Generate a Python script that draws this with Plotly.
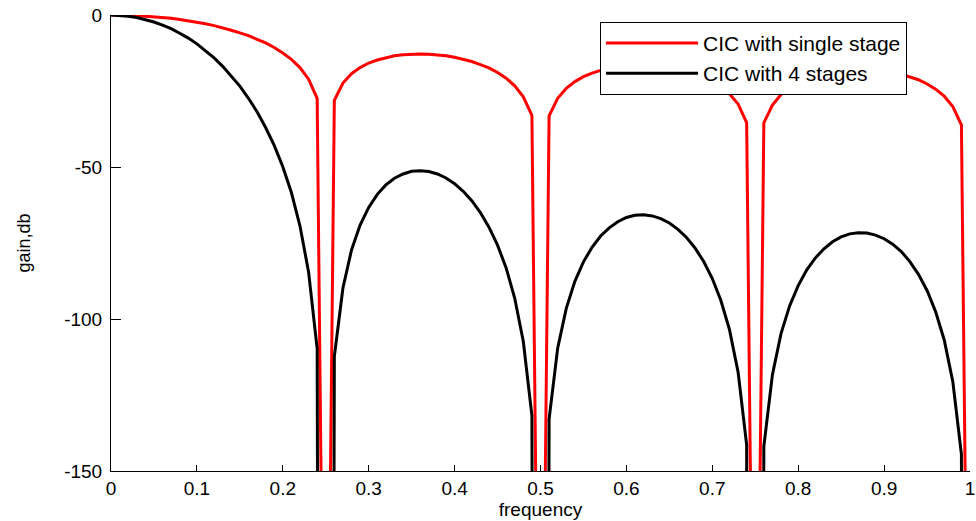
import plotly.graph_objects as go

# Normalized frequency grid
freq = [0.00, 0.01, 0.02, 0.03, 0.04, 0.05, 0.06, 0.07, 0.08, 0.09,
        0.10, 0.11, 0.12, 0.13, 0.14, 0.15, 0.16, 0.17, 0.18, 0.19,
        0.20, 0.21, 0.22, 0.23, 0.24, 0.25, 0.26, 0.27, 0.28, 0.29,
        0.30, 0.31, 0.32, 0.33, 0.34, 0.35, 0.36, 0.37, 0.38, 0.39,
        0.40, 0.41, 0.42, 0.43, 0.44, 0.45, 0.46, 0.47, 0.48, 0.49,
        0.50, 0.51, 0.52, 0.53, 0.54, 0.55, 0.56, 0.57, 0.58, 0.59,
        0.60, 0.61, 0.62, 0.63, 0.64, 0.65, 0.66, 0.67, 0.68, 0.69,
        0.70, 0.71, 0.72, 0.73, 0.74, 0.75, 0.76, 0.77, 0.78, 0.79,
        0.80, 0.81, 0.82, 0.83, 0.84, 0.85, 0.86, 0.87, 0.88, 0.89,
        0.90, 0.91, 0.92, 0.93, 0.94, 0.95, 0.96, 0.97, 0.98, 0.99,
        1.00]

# Gain (dB) of the single-stage CIC filter; nulls fall far below the axis
gain_single = [0.0, 0.0, -0.1, -0.2, -0.4, -0.6, -0.8, -1.1, -1.5, -1.9,
               -2.4, -2.9, -3.5, -4.2, -5.0, -5.9, -6.8, -8.0, -9.2, -10.7,
               -12.5, -14.6, -17.3, -21.1, -27.4, -300.0, -28.1, -22.4, -19.3, -17.3,
               -15.8, -14.8, -14.0, -13.4, -13.1, -12.9, -12.8, -12.9, -13.1, -13.4,
               -13.9, -14.5, -15.3, -16.3, -17.4, -18.9, -20.8, -23.3, -26.9, -33.0,
               -300.0, -33.2, -27.4, -24.1, -21.9, -20.3, -19.1, -18.2, -17.5, -17.0,
               -16.7, -16.5, -16.4, -16.5, -16.8, -17.1, -17.6, -18.3, -19.2, -20.3,
               -21.7, -23.5, -25.9, -29.3, -35.4, -300.0, -35.5, -29.6, -26.2, -23.9,
               -22.2, -21.0, -20.0, -19.2, -18.7, -18.3, -18.0, -17.9, -17.9, -18.1,
               -18.4, -18.8, -19.5, -20.3, -21.3, -22.7, -24.4, -26.7, -30.1, -36.1,
               -300.0]

# Gain (dB) of the 4-stage CIC filter
gain_four = [0.0, -0.1, -0.4, -0.8, -1.5, -2.3, -3.3, -4.5, -6.0, -7.6,
             -9.5, -11.7, -14.1, -16.9, -20.0, -23.4, -27.4, -31.8, -37.0, -42.9,
             -49.9, -58.4, -69.4, -84.5, -109.7, -1200.0, -112.3, -89.8, -77.3, -69.1,
             -63.3, -59.0, -55.9, -53.7, -52.3, -51.4, -51.2, -51.5, -52.3, -53.6,
             -55.5, -58.0, -61.1, -65.0, -69.8, -75.7, -83.2, -93.2, -107.4, -131.8,
             -1200.0, -132.9, -109.6, -96.5, -87.6, -81.2, -76.4, -72.7, -70.0, -68.0,
             -66.6, -65.9, -65.7, -66.1, -67.0, -68.4, -70.5, -73.2, -76.7, -81.1,
             -86.7, -93.9, -103.5, -117.4, -141.4, -1200.0, -141.9, -118.3, -104.8, -95.7,
             -89.0, -83.8, -79.9, -76.9, -74.6, -73.0, -72.0, -71.6, -71.7, -72.4,
             -73.6, -75.4, -77.8, -81.1, -85.3, -90.6, -97.6, -106.9, -120.6, -144.4,
             -1200.0]

x_ticks = [0, 0.1, 0.2, 0.3, 0.4, 0.5, 0.6, 0.7, 0.8, 0.9, 1]
x_labels = ["0", "0.1", "0.2", "0.3", "0.4", "0.5", "0.6", "0.7", "0.8", "0.9", "1"]
y_ticks = [-150, -100, -50, 0]
y_labels = ["-150", "-100", "-50", "0"]

FONT = "Liberation Sans, Arial, Helvetica, sans-serif"

fig = go.Figure()
fig.add_trace(go.Scatter(x=freq, y=gain_single, mode="lines",
                         name="CIC with single stage",
                         line=dict(color="#ff0000", width=3)))
fig.add_trace(go.Scatter(x=freq, y=gain_four, mode="lines",
                         name="CIC with 4 stages",
                         line=dict(color="#000000", width=3)))

fig.update_layout(
    width=976, height=521,
    margin=dict(l=111, r=6, t=15, b=50, pad=0, autoexpand=False),
    paper_bgcolor="white", plot_bgcolor="white",
    font=dict(family=FONT, size=19, color="black"),
    showlegend=True,
    legend=dict(
        x=0.5693, y=0.985, xanchor="left", yanchor="top",
        bgcolor="white", bordercolor="black", borderwidth=1,
        font=dict(family=FONT, size=21, color="black"),
        itemwidth=92, tracegroupgap=0,
    ),
    xaxis=dict(
        range=[0, 1], tickvals=x_ticks, ticktext=x_labels,
        ticks="inside", ticklen=6, tickwidth=1, tickcolor="black",
        showline=True, linecolor="black", linewidth=1, mirror=False,
        showgrid=False, zeroline=False, automargin=False,
        ticklabeloverflow="allow",
        tickfont=dict(size=19),
        title=dict(text="frequency", font=dict(size=19), standoff=2),
    ),
    yaxis=dict(
        range=[-150, 0], tickvals=y_ticks, ticktext=y_labels,
        ticks="inside", ticklen=10, tickwidth=1, tickcolor="black",
        showline=True, linecolor="black", linewidth=1, mirror=False,
        showgrid=False, zeroline=False, automargin=False,
        ticklabelstandoff=4,
        tickfont=dict(size=19),
        title=dict(text="gain,db", font=dict(size=18), standoff=28),
    ),
)

fig.write_html("out.html")
